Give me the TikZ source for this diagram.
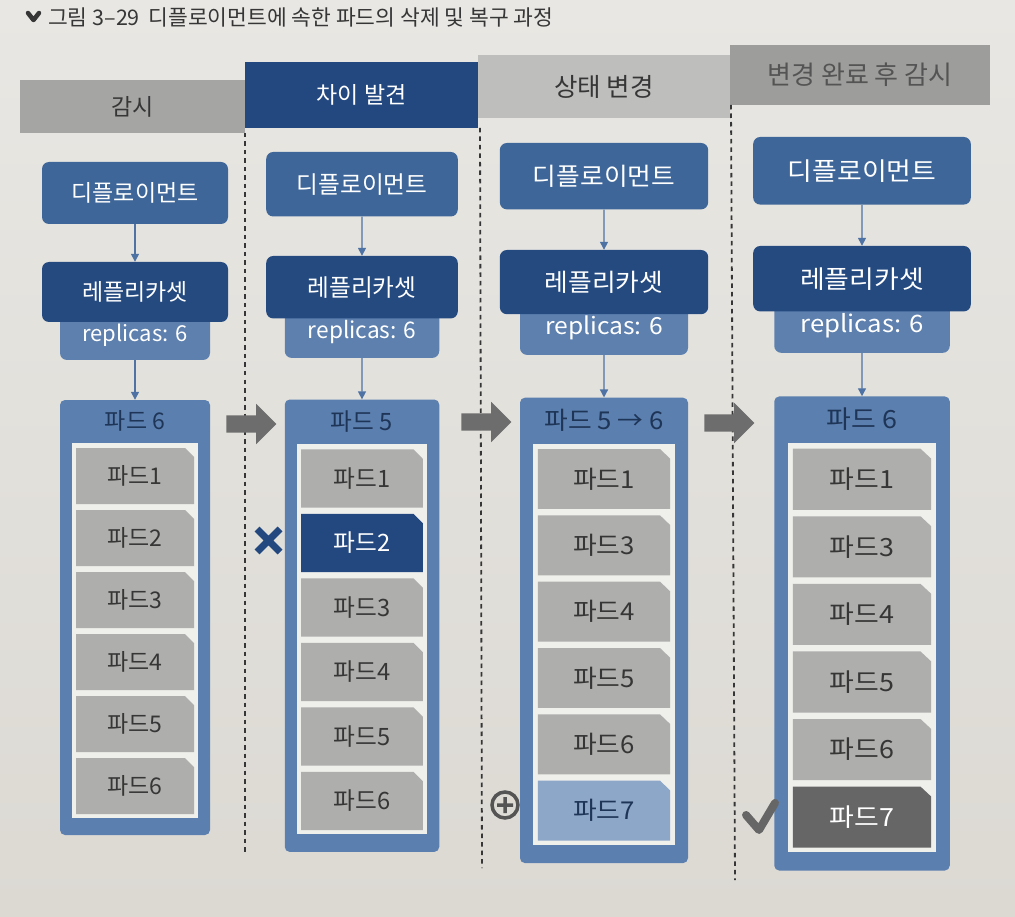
\documentclass[tikz,border=0pt]{standalone}
\usepackage{fontspec}
\setmainfont{Noto Sans CJK KR}
\usepackage{tikz}
\usetikzlibrary{arrows.meta,shapes.arrows}
\definecolor{pagetop}{HTML}{E8E7E3}
\definecolor{pagebot}{HTML}{DCD9D3}
\definecolor{depblue}{HTML}{3E6699}
\definecolor{rsblue}{HTML}{244A80}
\definecolor{repblue}{HTML}{5D80AE}
\definecolor{grpblue}{HTML}{5B7FAF}
\definecolor{wellwhite}{HTML}{EFEFEC}
\definecolor{podgray}{HTML}{AEAEAC}
\definecolor{podsel}{HTML}{234880}
\definecolor{podnew}{HTML}{8DA7C8}
\definecolor{poddone}{HTML}{666666}
\definecolor{navytext}{HTML}{1E3557}
\definecolor{darktext}{HTML}{363636}
\definecolor{linkblue}{HTML}{4D72A3}
\definecolor{arrowgray}{HTML}{6D6D6D}
\tikzset{
  box/.style={rounded corners=7pt, inner sep=0pt, text=white, font=\fontsize{23}{27}\selectfont},
  dep/.style={box, fill=depblue, minimum width=186, minimum height=62},
  rs/.style={box, fill=rsblue, minimum width=186, minimum height=60},
  rep/.style={box, fill=repblue, minimum width=150, minimum height=50, font=\fontsize{22}{26}\selectfont},
  group/.style={fill=grpblue, rounded corners=5pt, minimum width=150, minimum height=435, inner sep=0pt},
  well/.style={fill=wellwhite, minimum width=126, minimum height=375, inner sep=0pt},
  grouplabel/.style={text=navytext, inner sep=0pt, font=\fontsize{23}{27}\selectfont},
  pod/.style={minimum width=118, minimum height=56, inner sep=0pt, text=darktext,
    font=\fontsize{23}{27}\selectfont,
    path picture={\fill[fill=#1] (path picture bounding box.south west)
      -- (path picture bounding box.north west)
      -- ([xshift=-9pt]path picture bounding box.north east)
      -- ([yshift=-9pt]path picture bounding box.north east)
      -- (path picture bounding box.south east) -- cycle;}},
  pod/.default=podgray,
  link/.style={draw=linkblue, line width=1.4pt, -{Triangle[width=8pt,length=8pt]}},
  divider/.style={draw=darktext, line width=1.8pt, dash pattern=on 4.5pt off 4pt},
  stagehdr/.style={inner sep=0pt, text=darktext},
  flowarrow/.style={single arrow, fill=arrowgray, inner sep=8.5pt, minimum height=50,
    single arrow head extend=11.5pt},
  caption/.style={text=darktext, inner sep=0pt, font=\fontsize{21.5}{25}\selectfont}
}
\newcommand{\podbox}[4][]{\node[pod,#1] at (#2) (#3) {#4}}
\newcommand{\ctrlcol}[2]{%
  \node[rep] at (0,173) (#1-rep) {\raisebox{-6pt}{replicas: 6}};
  \node[dep] at (0,31) (#1-dep) {디플로이먼트};
  \node[rs] at (0,130) (#1-rs) {레플리카셋};
  \node[group] at (0,455.5) (#1-grp) {};
  \node[well] at (0,468.5) (#1-well) {};
  \node[grouplabel] at (0,259) (#1-lbl) {#2};
  \draw[link] (#1-dep) -- (#1-rs);
  \draw[link] (#1-rep) -- (#1-grp);
}

\begin{document}
\begin{tikzpicture}[x=1pt,y=-1pt]
  \shade[top color=pagetop, bottom color=pagebot] (0,0) rectangle (1015,917);
  \useasboundingbox (0,0) rectangle (1015,917);

  % caption
  \draw[darktext, line width=4.5pt, line cap=round, line join=round] (28,13) -- (33.5,20) -- (39,13);
  \node[caption, anchor=west] at (48,17) (cap) {그림 3–29\hspace{0.4em}디플로이먼트에 속한 파드의 삭제 및 복구 과정};

  % stage headers
  \node[stagehdr, fill=podgray!95!black, minimum width=225, minimum height=53,
        font=\fontsize{23}{27}\selectfont] at (132.5,106.5) (h-watch) {감시};
  \node[stagehdr, fill=podsel, text=white, minimum width=233, minimum height=66,
        font=\fontsize{23}{27}\selectfont] at (361.5,95) (h-diff) {차이 발견};
  \node[stagehdr, fill=podgray!80!white, minimum width=252, minimum height=63,
        font=\fontsize{25.5}{30}\selectfont] at (604,86.5) (h-change) {상태 변경};
  \node[stagehdr, fill=podgray!90!black, text=darktext!85, minimum width=260, minimum height=60,
        font=\fontsize{26}{30}\selectfont] at (860,75) (h-after) {변경 완료 후 감시};

  % dividers
  \draw[divider] (245,133) -- (245,852);
  \draw[divider] (480,128) -- (482,868);
  \draw[divider] (731,105) -- (735,880);

  % watch
  \begin{scope}[shift={(135,162)}, every node/.append style={transform shape}]
    \ctrlcol{c1}{파드 6}
    \foreach \pid [count=\slot] in {1,...,6} \podbox{0,{314+62*(\slot-1)}}{c1-p\pid}{파드\pid};
  \end{scope}

  % diff found
  \begin{scope}[shift={(362,152)}, xscale=1.03, yscale=1.04, every node/.append style={transform shape}]
    \ctrlcol{c2}{파드 5}
    \foreach \pid in {1,3,4,5,6} \podbox{0,{314+62*(\pid-1)}}{c2-p\pid}{파드\pid};
    \podbox[pod=podsel, text=white]{0,376}{c2-p2}{파드2};
  \end{scope}

  % change
  \begin{scope}[shift={(604,143)}, xscale=1.12, yscale=1.07, every node/.append style={transform shape}]
    \ctrlcol{c3}{파드 5 → 6}
    \foreach \pid [count=\slot] in {1,3,4,5,6} \podbox{0,{314+62*(\slot-1)}}{c3-p\pid}{파드\pid};
    \podbox[pod=podnew, text=navytext]{0,624}{c3-p7}{파드7};
  \end{scope}

  % after change
  \begin{scope}[shift={(862,137)}, xscale=1.17, yscale=1.09, every node/.append style={transform shape}]
    \ctrlcol{c4}{파드 6}
    \foreach \pid [count=\slot] in {1,3,4,5,6} \podbox{0,{314+62*(\slot-1)}}{c4-p\pid}{파드\pid};
    \podbox[pod=poddone, text=white]{0,624}{c4-p7}{파드7};
  \end{scope}

  % flow between stages
  \node[flowarrow] at (247,424) (go1) {};
  \node[flowarrow] at (482,422) (go2) {};
  \node[flowarrow] at (725,423) (go3) {};

  % marks
  \draw[podsel, line width=7pt] (257,529) -- (280,552) (257,552) -- (280,529);
  \draw[darktext!85, line width=3.5pt] (505,805) circle (13pt) (497,805) -- (513,805) (505,797) -- (505,813);
  \draw[poddone, line width=8pt, line cap=round, line join=round] (746,815) -- (759,830) -- (775,803);
\end{tikzpicture}
\end{document}
